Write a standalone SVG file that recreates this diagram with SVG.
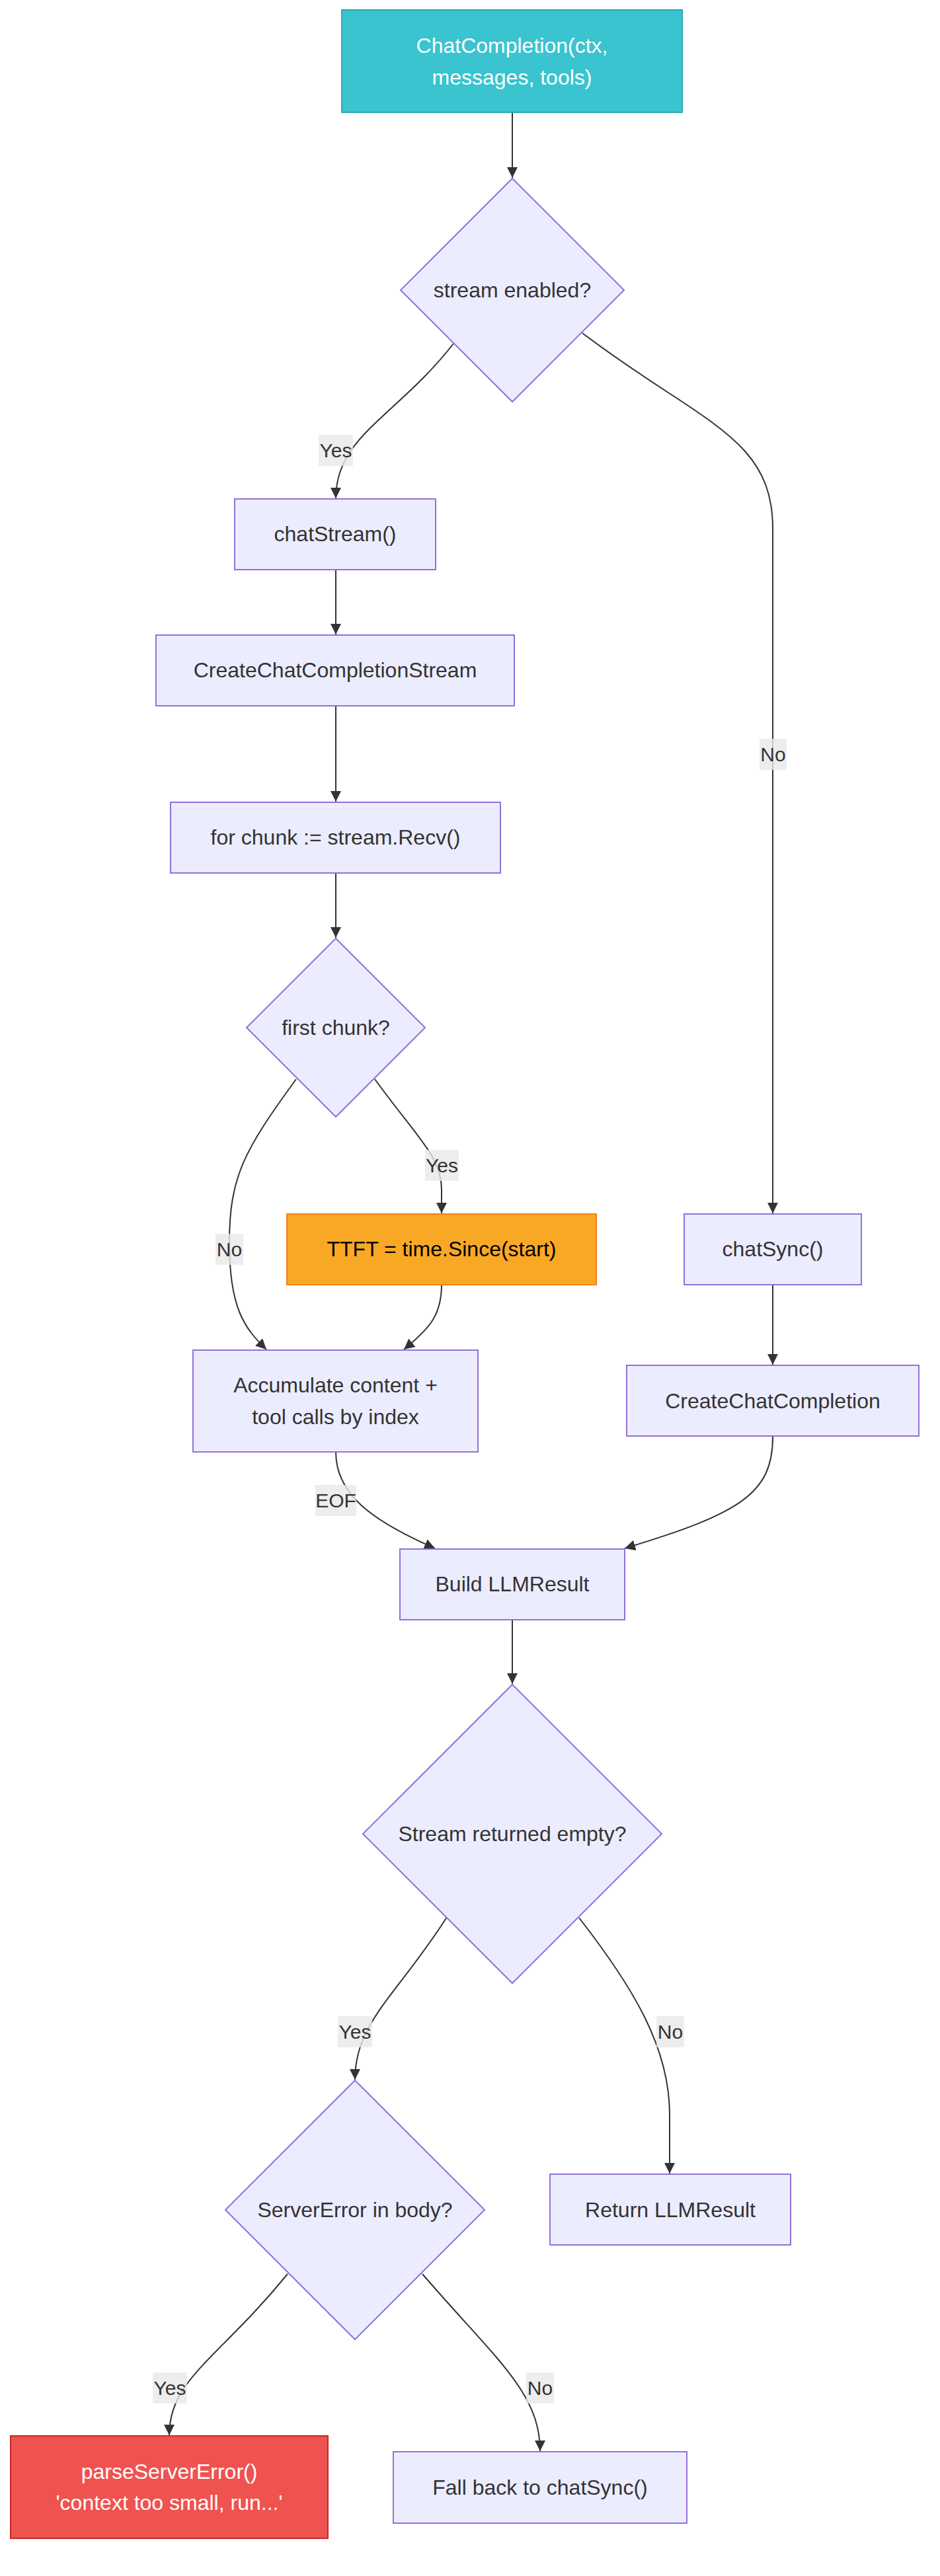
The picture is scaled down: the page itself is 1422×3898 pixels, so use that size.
<svg xmlns="http://www.w3.org/2000/svg" width="1422" height="3898" viewBox="0 0 1422 3898">
<style>
.node rect, .node polygon { fill: #ECECFF; stroke: #9370DB; stroke-width: 2; }
.node text { font-family: "Liberation Sans", Arial, sans-serif; font-size: 32px; fill: #333333; text-anchor: middle; }
.edge { fill: none; stroke: #333333; stroke-width: 2; marker-end: url(#arrow); }
.elabel rect { fill: #e8e8e8; fill-opacity: 0.8; }
.elabel text { font-family: "Liberation Sans", Arial, sans-serif; font-size: 30px; fill: #333333; text-anchor: middle; }
#n-start rect { fill: #3ac4cf; stroke: #2aa8b2; }
#n-start text { fill: #ffffff; }
#n-ttft rect { fill: #f9a825; stroke: #f57f17; }
#n-ttft text { fill: #000000; }
#n-parse rect { fill: #ef5350; stroke: #c62828; }
#n-parse text { fill: #ffffff; }
</style>
<defs>
<marker id="arrow" viewBox="0 0 10 10" refX="10" refY="5" markerUnits="userSpaceOnUse" markerWidth="16" markerHeight="16" orient="auto">
<path d="M0,0 L10,5 L0,10 z" fill="#333333"/>
</marker>
</defs>
<rect x="0" y="0" width="1422" height="3898" fill="#ffffff"/>

<g id="edges">
<path class="edge" d="M775,170 L775,269"/>
<path class="edge" d="M686,520 C600,630 508,660 508,754"/>
<path class="edge" d="M881,504 C1060,640 1169,660 1169,800 L1169,1836"/>
<path class="edge" d="M508,862 L508,960"/>
<path class="edge" d="M508,1068 L508,1213"/>
<path class="edge" d="M508,1321 L508,1419"/>
<path class="edge" d="M567,1633 C630,1720 668,1750 668,1800 L668,1836"/>
<path class="edge" d="M448,1633 C370,1740 347,1780 347,1880 C347,1980 370,2010 403,2042"/>
<path class="edge" d="M668,1944 C668,1990 650,2010 611,2042"/>
<path class="edge" d="M1169,1944 L1169,2065"/>
<path class="edge" d="M508,2197 C508,2260 560,2300 658,2343"/>
<path class="edge" d="M1169,2174 C1169,2260 1120,2290 945,2343"/>
<path class="edge" d="M775,2451 L775,2548"/>
<path class="edge" d="M676,2901 C600,3020 537,3060 537,3147"/>
<path class="edge" d="M876,2902 C960,3010 1013,3100 1013,3200 L1013,3289"/>
<path class="edge" d="M435,3441 C330,3570 256,3600 256,3685"/>
<path class="edge" d="M639,3441 C750,3570 817,3620 817,3709"/>
</g>

<g id="edge-labels">
<g class="elabel"><rect x="482" y="658" width="52" height="47"/><text x="508" y="692">Yes</text></g>
<g class="elabel"><rect x="1149" y="1118" width="41" height="47"/><text x="1169.5" y="1152">No</text></g>
<g class="elabel"><rect x="643" y="1740" width="51" height="47"/><text x="668.5" y="1774">Yes</text></g>
<g class="elabel"><rect x="326" y="1867" width="42" height="47"/><text x="347" y="1901">No</text></g>
<g class="elabel"><rect x="477" y="2247" width="62" height="47"/><text x="508" y="2281">EOF</text></g>
<g class="elabel"><rect x="511" y="3051" width="52" height="47"/><text x="537" y="3085">Yes</text></g>
<g class="elabel"><rect x="993" y="3051" width="42" height="47"/><text x="1014" y="3085">No</text></g>
<g class="elabel"><rect x="231" y="3590" width="52" height="47"/><text x="257" y="3624">Yes</text></g>
<g class="elabel"><rect x="796" y="3590" width="42" height="47"/><text x="817" y="3624">No</text></g>
</g>

<g id="n-start" class="node"><rect x="517" y="15" width="515" height="155"/><text x="774.5" y="80">ChatCompletion(ctx,</text><text x="774.5" y="128">messages, tools)</text></g>
<g id="n-stream" class="node"><polygon points="775,270 944,439 775,608 606,439"/><text x="775" y="450">stream enabled?</text></g>
<g id="n-chatstream" class="node"><rect x="355" y="755" width="304" height="107"/><text x="507" y="819">chatStream()</text></g>
<g id="n-ccs" class="node"><rect x="236" y="961" width="542" height="107"/><text x="507" y="1025">CreateChatCompletionStream</text></g>
<g id="n-forchunk" class="node"><rect x="258" y="1214" width="499" height="107"/><text x="507.5" y="1278">for chunk := stream.Recv()</text></g>
<g id="n-first" class="node"><polygon points="508,1420 643,1555 508,1690 373,1555"/><text x="508" y="1566">first chunk?</text></g>
<g id="n-ttft" class="node"><rect x="434" y="1837" width="468" height="107"/><text x="668" y="1901">TTFT = time.Since(start)</text></g>
<g id="n-chatsync" class="node"><rect x="1035" y="1837" width="268" height="107"/><text x="1169" y="1901">chatSync()</text></g>
<g id="n-accum" class="node"><rect x="292" y="2043" width="431" height="154"/><text x="507.5" y="2107">Accumulate content +</text><text x="507.5" y="2155">tool calls by index</text></g>
<g id="n-ccc" class="node"><rect x="948" y="2066" width="442" height="107"/><text x="1169" y="2131">CreateChatCompletion</text></g>
<g id="n-build" class="node"><rect x="605" y="2344" width="340" height="107"/><text x="775" y="2408">Build LLMResult</text></g>
<g id="n-empty" class="node"><polygon points="775,2549 1001,2775 775,3001 549,2775"/><text x="775" y="2786">Stream returned empty?</text></g>
<g id="n-servererr" class="node"><polygon points="537,3148 733,3344 537,3540 341,3344"/><text x="537" y="3355">ServerError in body?</text></g>
<g id="n-return" class="node"><rect x="832" y="3290" width="364" height="107"/><text x="1014" y="3355">Return LLMResult</text></g>
<g id="n-parse" class="node"><rect x="16" y="3686" width="480" height="155"/><text x="256" y="3751">parseServerError()</text><text x="256" y="3798">'context too small, run...'</text></g>
<g id="n-fallback" class="node"><rect x="595" y="3710" width="444" height="108"/><text x="817" y="3775">Fall back to chatSync()</text></g>
</svg>
